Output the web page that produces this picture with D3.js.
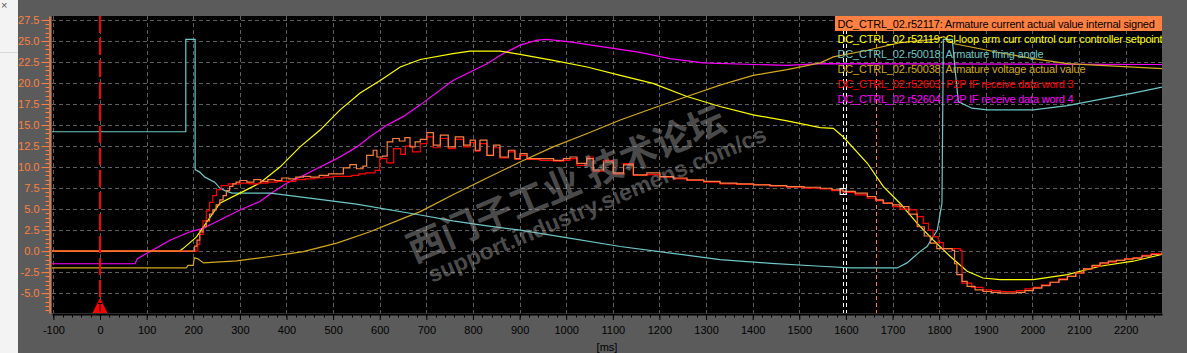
<!DOCTYPE html>
<html>
<head>
<meta charset="utf-8">
<script src="https://cdnjs.cloudflare.com/ajax/libs/d3/7.8.5/d3.min.js"></script>
<style>
body { margin: 0; background: #5b5b5b; overflow: hidden; }
svg { display: block; font-family: "Liberation Sans", Arial, sans-serif; }
</style>
</head>
<body>
<svg id="chart" width="1187" height="353"></svg>
<script>
//trace data, [time ms, value]
var firingAngle = [[-103,14.2],[184,14.2],[184,25.2],[204,25.2],[204,9.7],[214,9.4],[225,8.8],[246,8.2],[257,7.5],[268,7.2],[283,6.9],[365,6.9],[450,6.3],[550,5.6],[687,4.3],[757,3.6],[830,3.0],[901,2.5],[1000,1.6],[1116,0.55],[1220,-0.2],[1330,-1.0],[1440,-1.45],[1545,-1.8],[1610,-2.0],[1710,-2.0],[1731,-1.4],[1760,0.0],[1774,0.55],[1796,2.5],[1806,5.7],[1809,25.2],[1828,25.2],[1841,17.8],[1870,17.0],[1903,16.8],[2002,16.8],[2075,17.3],[2145,18.05],[2216,18.8],[2278,19.5]];
var armVoltage = [[-103,-2.0],[185,-2.0],[189,-1.7],[200,-1.7],[202,-0.8],[210,-0.9],[222,-1.4],[293,-1.15],[365,-0.64],[436,-0.05],[508,0.95],[579,2.3],[650,3.9],[687,4.7],[757,6.7],[830,8.7],[901,10.6],[972,12.4],[1045,14.0],[1116,15.6],[1186,17.0],[1259,18.4],[1330,19.75],[1401,20.9],[1474,21.6],[1545,22.4],[1573,23.1],[1646,23.9],[1716,24.8],[1787,25.2],[1810,25.5],[1830,24.7],[1931,23.6],[2002,22.9],[2075,22.3],[2278,21.7]];
var p2pWord4 = [[-103,-1.5],[75,-1.5],[80,-0.9],[150,1.3],[193,2.3],[221,2.7],[257,3.7],[300,4.9],[343,5.9],[365,6.8],[401,8.1],[436,9.0],[472,10.0],[508,11.0],[551,12.4],[579,13.6],[616,15.0],[650,16.0],[687,17.4],[757,20.3],[830,22.3],[865,23.5],[901,24.5],[938,25.1],[959,25.2],[1008,24.9],[1079,24.3],[1152,23.7],[1223,22.9],[1294,22.4],[1401,22.2],[1474,22.1],[1545,22.3],[2278,22.2]];
var currSetpoint = [[-103,0],[170,0],[178,0.3],[207,1.7],[257,5.7],[300,6.9],[343,8.1],[386,10.0],[429,12.4],[472,14.4],[515,16.8],[558,18.8],[601,20.3],[644,21.9],[687,22.8],[757,23.5],[794,23.8],[858,23.8],[901,23.4],[972,22.7],[1045,21.9],[1116,20.9],[1186,19.95],[1259,18.4],[1330,17.2],[1401,16.2],[1474,15.5],[1545,14.7],[1573,14.6],[1594,13.6],[1646,10.45],[1680,7.7],[1716,5.7],[1753,3.3],[1787,1.34],[1824,-0.64],[1860,-2.4],[1894,-3.2],[1931,-3.4],[2002,-3.4],[2075,-2.8],[2145,-1.8],[2216,-1.2],[2278,-0.4]];
var p2pWord3 = [[-103,0],[205,0],[210,0.8],[214,2.0],[221,3.6],[228,4.8],[235,5.8],[242,6.6],[250,7.3],[260,7.8],[275,8.0],[300,8.1],[320,8.0],[340,8.1],[360,8.2],[380,8.3],[400,8.3],[420,8.5],[440,8.6],[460,8.7],[480,8.8],[500,8.9],[520,8.9],[540,9.0],[555,9.2],[570,9.3],[590,9.6],[600,11.0],[615,10.5],[630,12.2],[645,11.5],[655,12.5],[670,11.8],[687,12.8],[701,13.6],[715,12.3],[730,13.4],[747,12.2],[762,13.3],[780,12.4],[794,12.9],[805,11.9],[815,12.8],[830,11.4],[844,12.3],[858,11.1],[876,11.8],[890,10.9],[901,11.4],[916,10.9],[944,10.8],[973,10.7],[994,10.8],[1008,11.0],[1023,10.2],[1044,11.2],[1058,9.5],[1080,10.8],[1101,9.2],[1123,10.4],[1144,9.0],[1173,9.1],[1201,8.8],[1230,8.6],[1259,8.4],[1295,8.2],[1330,8.0],[1366,7.95],[1402,7.9],[1437,7.75],[1473,7.6],[1510,7.5],[1545,7.4],[1570,7.2],[1594,7.0],[1620,6.7],[1646,6.3],[1664,6.0],[1680,5.7],[1700,5.3],[1716,5.0],[1738,4.9],[1752,4.1],[1766,3.3],[1777,2.5],[1787,1.7],[1798,1.0],[1809,0.3],[1845,0.1],[1849,-3.8],[1870,-4.3],[1894,-4.6],[1912,-4.7],[1931,-4.8],[1950,-4.8],[1966,-4.7],[1984,-4.5],[2002,-4.3],[2020,-4.0],[2038,-3.7],[2057,-3.3],[2075,-3.0],[2093,-2.6],[2110,-2.1],[2128,-1.8],[2145,-1.5],[2163,-1.3],[2180,-1.1],[2198,-0.9],[2216,-0.8],[2235,-0.5],[2255,-0.3],[2278,-0.1]];
var armCurrent = [[-103,0],[196,0],[203,0.6],[208,1.3],[214,2.3],[221,2.9],[228,3.6],[235,4.4],[242,4.9],[249,5.5],[257,6.1],[264,6.6],[271,7.2],[278,7.7],[285,8.0],[292,8.2],[300,8.4],[315,8.2],[330,8.5],[345,8.3],[360,8.5],[375,8.4],[390,8.7],[405,8.6],[420,8.8],[436,8.9],[452,8.8],[470,9.0],[490,9.2],[508,9.2],[522,9.9],[536,10.3],[550,9.8],[564,10.1],[572,11.4],[586,12.0],[594,11.2],[606,11.3],[616,13.0],[628,13.4],[642,13.1],[654,13.5],[665,12.4],[676,13.0],[687,13.3],[701,14.1],[715,12.6],[730,13.8],[747,12.4],[762,13.6],[780,12.6],[794,13.2],[805,12.0],[815,13.2],[830,11.4],[844,12.6],[858,11.2],[876,12.0],[890,11.0],[901,11.6],[916,11.0],[944,11.0],[973,10.8],[994,11.0],[1008,11.2],[1023,10.45],[1044,11.0],[1058,9.65],[1080,10.6],[1101,9.3],[1123,10.25],[1144,9.06],[1173,9.3],[1201,8.86],[1230,8.7],[1259,8.47],[1295,8.3],[1330,8.08],[1366,8.0],[1402,7.87],[1437,7.8],[1473,7.67],[1510,7.6],[1545,7.48],[1570,7.3],[1594,7.1],[1620,6.9],[1646,6.5],[1664,6.1],[1680,5.7],[1700,5.5],[1716,5.3],[1735,4.4],[1753,2.9],[1768,1.8],[1781,0.95],[1795,0.3],[1828,0.1],[1833,-1.5],[1838,-2.8],[1849,-3.6],[1860,-4.2],[1877,-4.6],[1894,-4.8],[1912,-4.9],[1931,-5.0],[1950,-5.0],[1966,-4.9],[1984,-4.7],[2002,-4.4],[2020,-4.1],[2038,-3.7],[2057,-3.4],[2075,-3.0],[2093,-2.6],[2110,-2.1],[2128,-1.7],[2145,-1.4],[2163,-1.2],[2180,-1.1],[2198,-0.95],[2216,-0.83],[2235,-0.6],[2255,-0.4],[2278,-0.17]];

//legend texts (same order as the recorder shows them)
var legendLabels = [
    "DC_CTRL_02.r52117: Armature current actual value internal signed",
    "DC_CTRL_02.r52119: Cl-loop arm curr control curr controller setpoint",
    "DC_CTRL_02.r50018: Armature firing angle",
    "DC_CTRL_02.r50038: Armature voltage actual value",
    "DC_CTRL_02.r52603: P2P IF receive data word 3",
    "DC_CTRL_02.r52604: P2P IF receive data word 4"
];
var legendColors = ["#000000", "#ffff00", "#6ec8c8", "#d4aa1e", "#ff0000", "#ff00ff"];

//ticks and cursors
var xTicks = d3.range(-100, 2201, 100),
    xMinorTicks = d3.range(-100, 2270, 20),
    yTicks = d3.range(-5, 27.6, 2.5),
    yMinorTicks = d3.range(-7, 28, 0.5),
    triggerTime = 0,
    cursorTimes = [1594, 1600],
    cursor2Time = 1664;

var svg = d3.select("#chart"),
    pLeft = 52, pRight = 1162, pTop = 16, pBottom = 313,
    colorAxis = "#ff8040",
    colorGrid = "#5e5e5e";

var x = d3.scaleLinear().domain([-103, 2278]).range([pLeft, pRight]);
var y = d3.scaleLinear().domain([-7.36, 27.97]).range([pBottom, pTop]);

//left white strip of the window
svg.append("rect").attr("x", 0).attr("y", 0).attr("width", 18).attr("height", 353).attr("fill", "#f3f3f3");
svg.append("line").attr("x1", 0).attr("x2", 18).attr("y1", 52.5).attr("y2", 52.5).attr("stroke", "#d8d8d8");
svg.append("text").attr("x", 1).attr("y", 9).attr("font-size", 11).attr("fill", "#555").text("×");

//plot background
svg.append("rect").attr("x", pLeft).attr("y", pTop).attr("width", pRight - pLeft).attr("height", pBottom - pTop).attr("fill", "#000");

svg.append("clipPath").attr("id", "plotClip")
    .append("rect").attr("x", pLeft).attr("y", pTop).attr("width", pRight - pLeft).attr("height", pBottom - pTop);

var plot = svg.append("g").attr("clip-path", "url(#plotClip)");

//grid
plot.selectAll(".hgrid").data(yTicks).enter().append("line")
    .attr("x1", pLeft).attr("x2", pRight)
    .attr("y1", function(d){ return Math.round(y(d)) + 0.5; })
    .attr("y2", function(d){ return Math.round(y(d)) + 0.5; })
    .attr("stroke", colorGrid).attr("stroke-dasharray", "4,3");
plot.selectAll(".vgrid").data(xTicks).enter().append("line")
    .attr("y1", pTop).attr("y2", pBottom)
    .attr("x1", function(d){ return Math.round(x(d)) + 0.5; })
    .attr("x2", function(d){ return Math.round(x(d)) + 0.5; })
    .attr("stroke", colorGrid).attr("stroke-dasharray", "4,3");

//cursors
plot.selectAll(".cursor").data(cursorTimes).enter().append("line")
    .attr("y1", pTop).attr("y2", pBottom)
    .attr("x1", function(d){ return Math.round(x(d)) + 0.5; })
    .attr("x2", function(d){ return Math.round(x(d)) + 0.5; })
    .attr("stroke", "#ffffff").attr("stroke-dasharray", "4,3");
plot.append("line")
    .attr("y1", pTop).attr("y2", pBottom)
    .attr("x1", Math.round(x(cursor2Time)) + 0.5).attr("x2", Math.round(x(cursor2Time)) + 0.5)
    .attr("stroke", "#ff8040").attr("stroke-dasharray", "4,3");

//traces (the slow ones drawn straight, the noisy ones as sample steps)
var traces = [
    {data: p2pWord4, color: "#ff00ff", step: false},
    {data: armVoltage, color: "#d4aa1e", step: false},
    {data: firingAngle, color: "#6ec8c8", step: false},
    {data: currSetpoint, color: "#ffff00", step: false},
    {data: p2pWord3, color: "#ff0000", step: true},
    {data: armCurrent, color: "#ff8040", step: true}
];
traces.forEach(function(tr){
    var line = d3.line()
        .x(function(d){ return x(d[0]); })
        .y(function(d){ return y(d[1]); })
        .curve(tr.step ? d3.curveStepAfter : d3.curveLinear);
    plot.append("path")
        .attr("d", line(tr.data))
        .attr("fill", "none")
        .attr("stroke", tr.color)
        .attr("stroke-width", 1.2);
});

//trigger line and marker
plot.append("line")
    .attr("x1", x(triggerTime)).attr("x2", x(triggerTime))
    .attr("y1", pTop).attr("y2", pBottom)
    .attr("stroke", "#ff0000").attr("stroke-width", 2).attr("stroke-dasharray", "17,5");
var tx = x(triggerTime);
plot.append("path")
    .attr("d", "M" + tx + "," + (pBottom - 15) + "L" + (tx + 7.5) + "," + pBottom + "L" + (tx - 7.5) + "," + pBottom + "Z")
    .attr("fill", "#ff0000");
plot.append("path")
    .attr("d", "M" + (tx - 2) + "," + (pBottom - 9.5) + "H" + (tx + 2) + "M" + tx + "," + (pBottom - 9.5) + "V" + (pBottom - 1))
    .attr("stroke", "#000").attr("stroke-width", 1);

//cursor marker on the current trace
var cursorValue = 7.1;
plot.append("rect")
    .attr("x", x(cursorTimes[0]) - 3).attr("y", y(cursorValue) - 3)
    .attr("width", 6).attr("height", 6)
    .attr("fill", "none").attr("stroke", "#ffffff");

//watermark
plot.append("text")
    .attr("transform", "translate(414,263) rotate(-23)")
    .attr("font-family", "'Noto Sans CJK SC'").attr("font-weight", "bold").attr("font-size", 37)
    .attr("fill", "#aaaaaa").attr("fill-opacity", 0.45)
    .text("西门子工业 技术论坛");
plot.append("text")
    .attr("transform", "translate(432,283) rotate(-23)")
    .attr("font-weight", "bold").attr("font-size", 23)
    .attr("fill", "#aaaaaa").attr("fill-opacity", 0.45)
    .text("support.industry.siemens.com/cs");

//legend
plot.append("rect").attr("x", 835).attr("y", 16).attr("width", pRight - 835).attr("height", 15).attr("fill", "#ff8040");
plot.selectAll(".legend").data(legendLabels).enter().append("text")
    .attr("x", 837.5)
    .attr("y", function(d, i){ return 27.5 + i * 15; })
    .attr("font-size", 11)
    .attr("letter-spacing", -0.2)
    .attr("fill", function(d, i){ return legendColors[i]; })
    .text(function(d){ return d; });

//x axis
var xAxis = d3.axisBottom(x).tickValues(xTicks).tickSize(6).tickSizeOuter(0).tickFormat(function(d){ return String(d); });
var gx = svg.append("g").attr("transform", "translate(0,314)").call(xAxis);
gx.selectAll(".minor").data(xMinorTicks).enter().append("line")
    .attr("x1", function(d){ return Math.round(x(d)) + 0.5; })
    .attr("x2", function(d){ return Math.round(x(d)) + 0.5; })
    .attr("y1", 0).attr("y2", 3.5).attr("stroke", "#000");
gx.select(".domain").attr("stroke", "#000").attr("stroke-width", 2);
gx.selectAll(".tick line").attr("stroke", "#000");
gx.selectAll(".tick text").attr("fill", "#000").attr("font-size", 11).attr("font-family", "Liberation Sans").attr("y", 12);

svg.append("text").attr("x", 607).attr("y", 351).attr("text-anchor", "middle")
    .attr("font-size", 11).attr("fill", "#000").text("[ms]");

//y axis
var yAxis = d3.axisLeft(y).tickValues(yTicks).tickSize(8).tickSizeOuter(0).tickFormat(function(d){ return d.toFixed(1); });
var gy = svg.append("g").attr("transform", "translate(49.5,0)").call(yAxis);
gy.selectAll(".minor").data(yMinorTicks).enter().append("line")
    .attr("y1", function(d){ return Math.round(y(d)) + 0.5; })
    .attr("y2", function(d){ return Math.round(y(d)) + 0.5; })
    .attr("x1", 0).attr("x2", -4).attr("stroke", colorAxis);
gy.select(".domain").attr("stroke", colorAxis).attr("stroke-width", 1.5);
gy.selectAll(".tick line").attr("stroke", colorAxis);
gy.selectAll(".tick text").attr("fill", colorAxis).attr("font-size", 11).attr("font-family", "Liberation Sans").attr("x", -10);
</script>
</body>
</html>
